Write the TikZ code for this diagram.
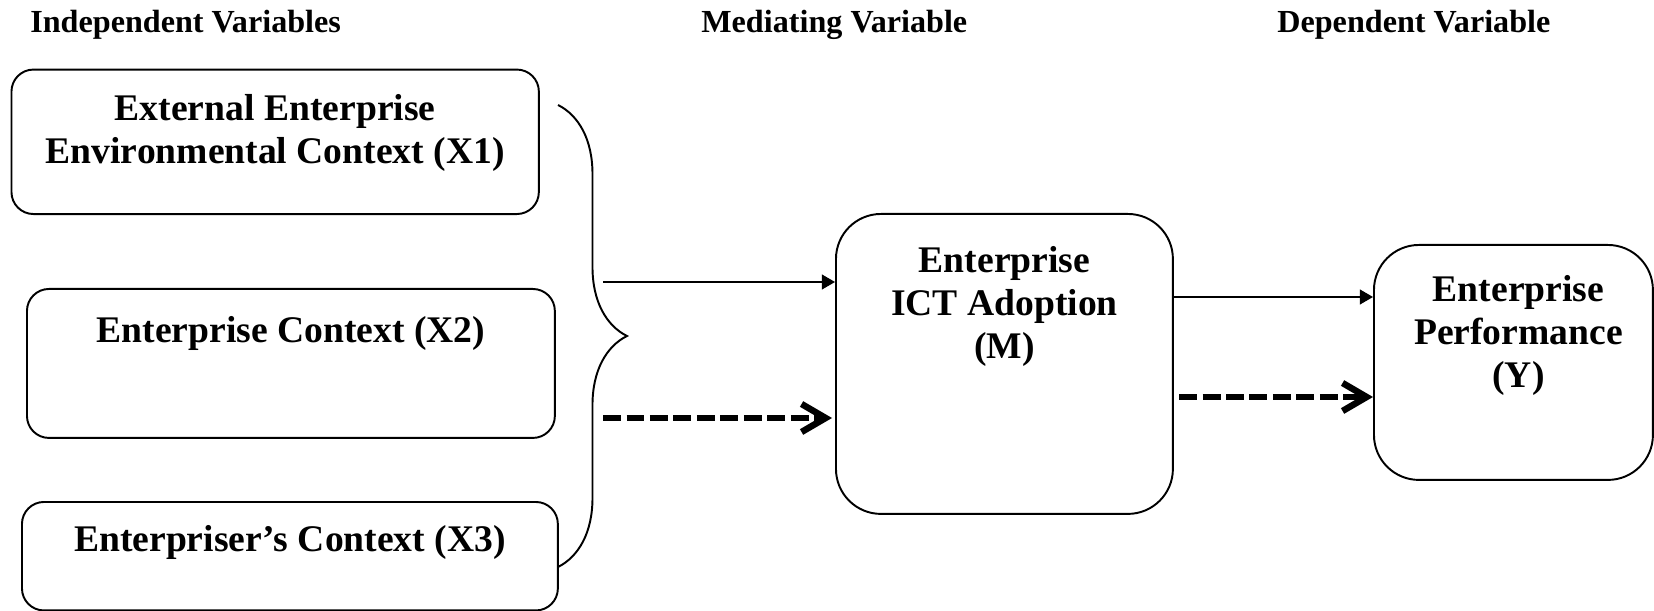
\documentclass[tikz,border=0pt]{standalone}
\usepackage{fontspec}
\setmainfont{Liberation Serif}
\usetikzlibrary{positioning,arrows.meta,decorations.pathreplacing}

\begin{document}
\begin{tikzpicture}
    [x=0.02cm, y=-0.02cm, >={Triangle[length=7.5pt,width=8.5pt]},
     box/.style={draw, line width=1.1pt, rounded corners=0.44cm, inner sep=0pt, anchor=north west},
     bigbox/.style={box, rounded corners=0.9cm},
     lbl/.style={inner sep=0pt, align=center, font=\bfseries\fontsize{21.4}{24.6}\selectfont},
     head/.style={inner sep=0pt, anchor=base west, font=\bfseries\fontsize{18.3}{21}\selectfont},
     dasharrow/.style={line width=0.13cm, dash pattern=on 0.36cm off 0.11cm,
       -{Straight Barb[length=0.48cm,width=0.56cm]}}]
  \useasboundingbox (0,0) rectangle (1654,611);

  % column headings
  \node[head] (hind) at (30,33) {Independent Variables};
  \node[head] (hmed) at (701,33) {Mediating Variable};
  \node[head] (hdep) at (1277,33) {Dependent Variable};

  % boxes
  \node[box, minimum width=10.55cm, minimum height=2.89cm] (x1) at (10.5,68.6) {};
  \node[box, minimum width=10.56cm, minimum height=2.98cm] (x2) at (26,288) {};
  \node[box, minimum width=10.72cm, minimum height=2.17cm] (x3) at (21,501) {};
  \node[bigbox, minimum width=6.74cm, minimum height=6cm] (m) at (835,213) {};
  \node[bigbox, minimum width=5.58cm, minimum height=4.7cm] (y) at (1373,244) {};

  \node[lbl, below=0.51cm of x1.north] (x1t) {External Enterprise\\Environmental Context (X1)};
  \node[lbl, below=0.57cm of x2.north] (x2t) {Enterprise Context (X2)};
  \node[lbl, below=0.48cm of x3.north] (x3t) {Enterpriser’s Context (X3)};
  \node[lbl, below=0.66cm of m.north] (mt) {Enterprise\\ICT Adoption\\(M)};
  \node[lbl, below=0.62cm of y.north, xshift=0.1cm] (yt) {Enterprise\\Performance\\(Y)};

  % brace over X1..X3
  \coordinate (btop) at (558,105);
  \coordinate (bbot) at (558,567);
  \draw[line width=1.1pt, decorate, decoration={brace, amplitude=1.38cm}] (btop) -- (bbot);

  % arrows
  \coordinate (s1) at (603,282);
  \coordinate (d1) at (603,418);
  \coordinate (s2) at (1000,297);
  \coordinate (d2) at (1179,397);
  \draw[->, line width=0.8pt] (s1) -- (s1 -| m.west);
  \draw[dasharrow] (d1) -- ([xshift=-0.06cm]d1 -| m.west);
  \draw[->, line width=0.8pt] (m.east |- s2) -- (y.west |- s2);
  \draw[dasharrow] (d2) -- (d2 -| y.west);
\end{tikzpicture}
\end{document}
